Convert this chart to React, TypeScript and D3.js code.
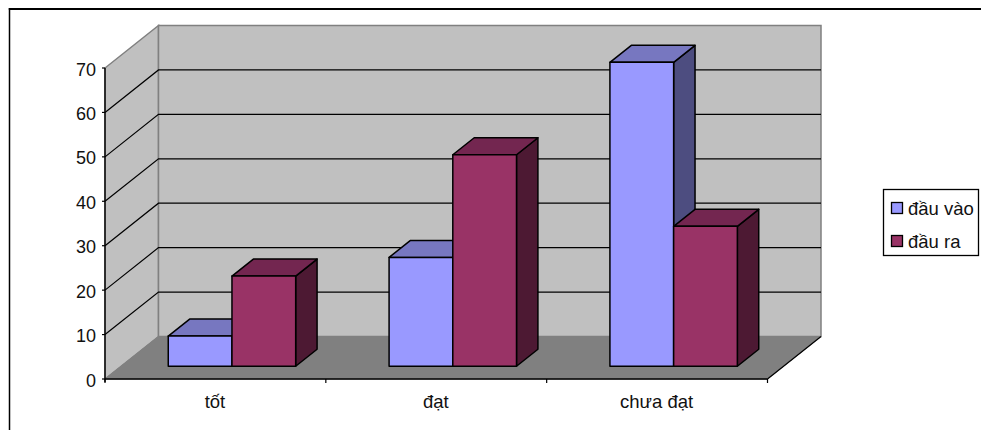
import React from "react";
import * as d3 from "d3";

const categories = ["tốt", "đạt", "chưa đạt"];
const seriesNames = ["đầu vào", "đầu ra"];
const dauVao = [6.8, 24.5, 68.4];
const dauRa = [20.3, 47.6, 31.5];
const yTicks = [0, 10, 20, 30, 40, 50, 60, 70];

const frontColors = ["#9999ff", "#993366"];
const topColors = ["#7777c0", "#732650"];
const sideColors = ["#4d4d80", "#4d1933"];

const WIDTH = 981;
const HEIGHT = 430;
const FONT = "'Liberation Sans', Arial, sans-serif";

// Oblique projection: the back of the box is offset from the front plane.
const depthX = 53.5;
const depthY = -42.5;
const barDepthStart = 0.3;
const barDepthEnd = 0.7;

const x = d3.scaleBand<string>().domain(categories).range([105, 767.5]);
const y = d3.scaleLinear().domain([0, 70]).range([379, 68]);

const project = (px: number, py: number, t: number): [number, number] => [
  px + depthX * t,
  py + depthY * t,
];

const poly = (pts: [number, number][]) => pts.map((p) => p.join(",")).join(" ");

function Bar({ cat, value, series }: { cat: string; value: number; series: number }) {
  const step = x.bandwidth();
  const barWidth = step * 0.2885;
  const x0 = (x(cat) as number) + step / 2 - barWidth + series * barWidth + 0.5;
  const x1 = x0 + barWidth;
  const top = y(value);
  const base = y(0);
  const a = barDepthStart;
  const b = barDepthEnd;
  const stroke = { stroke: "#000", strokeWidth: 1.5, strokeLinejoin: "round" as const };
  return (
    <g>
      <polygon
        points={poly([project(x1, base, a), project(x1, base, b), project(x1, top, b), project(x1, top, a)])}
        fill={sideColors[series]}
        {...stroke}
      />
      <polygon
        points={poly([project(x0, top, a), project(x1, top, a), project(x1, top, b), project(x0, top, b)])}
        fill={topColors[series]}
        {...stroke}
      />
      <polygon
        points={poly([project(x0, base, a), project(x1, base, a), project(x1, top, a), project(x0, top, a)])}
        fill={frontColors[series]}
        {...stroke}
      />
    </g>
  );
}

export default function App() {
  const [xl, xr] = x.range();
  const y0 = y(0);
  const yMax = y(70);
  const catTicks = d3.range(0, categories.length + 1).map((i) => xl + i * x.step());
  return (
    <svg
      width={WIDTH}
      height={HEIGHT}
      viewBox={`0 0 ${WIDTH} ${HEIGHT}`}
      style={{ position: "fixed", left: 0, top: 0, background: "#fff" }}
      fontFamily={FONT}
    >
      {/* outer frame: only the top and left edges fall inside the canvas */}
      <line x1={8.8} y1={9} x2={WIDTH} y2={9} stroke="#000" strokeWidth={2} />
      <line x1={9.5} y1={8} x2={9.5} y2={HEIGHT} stroke="#000" strokeWidth={1.5} />

      {/* side wall, back wall and floor */}
      <polygon
        points={poly([[xl, y0], [xl, yMax], project(xl, yMax, 1), project(xl, y0, 1)])}
        fill="#c0c0c0"
        stroke="#808080"
        strokeWidth={1.5}
      />
      <polygon
        points={poly([project(xl, yMax, 1), project(xr, yMax, 1), project(xr, y0, 1), project(xl, y0, 1)])}
        fill="#c0c0c0"
        stroke="#808080"
        strokeWidth={1.5}
      />
      <polygon
        points={poly([[xl, y0], [xr, y0], project(xr, y0, 1), project(xl, y0, 1)])}
        fill="#808080"
        stroke="#808080"
      />

      {/* gridlines run along the side wall and across the back wall */}
      {yTicks.slice(1, -1).map((t) => (
        <polyline
          key={t}
          points={poly([[xl, y(t)], project(xl, y(t), 1), project(xr, y(t), 1)])}
          fill="none"
          stroke="#000"
          strokeWidth={1.2}
        />
      ))}

      {categories.map((c, i) => (
        <g key={c}>
          <Bar cat={c} value={dauVao[i]} series={0} />
          <Bar cat={c} value={dauRa[i]} series={1} />
        </g>
      ))}

      {/* front axes */}
      <line x1={xl} y1={yMax} x2={xl} y2={y0 + 3} stroke="#000" strokeWidth={1.4} />
      <line x1={xl} y1={y0} x2={xr} y2={y0} stroke="#000" strokeWidth={1.4} />
      <line x1={xr} y1={y0} x2={xr + depthX} y2={y0 + depthY} stroke="#000" strokeWidth={1.2} />
      {yTicks.map((t) => (
        <g key={t}>
          <line x1={xl - 3} x2={xl} y1={y(t)} y2={y(t)} stroke="#000" strokeWidth={1.2} />
          <text x={xl - 9} y={y(t) + 7.5} textAnchor="end" fontSize={18} fill="#111">
            {t}
          </text>
        </g>
      ))}
      {catTicks.map((px) => (
        <line key={px} x1={px} x2={px} y1={y0} y2={y0 + 4} stroke="#000" strokeWidth={1.2} />
      ))}
      {categories.map((c) => (
        <text
          key={c}
          x={(x(c) as number) + x.bandwidth() / 2 - 0.5}
          y={408}
          textAnchor="middle"
          fontSize={18.5}
          fill="#111"
        >
          {c}
        </text>
      ))}

      {/* legend */}
      <rect x={883.5} y={189.5} width={95} height={66} fill="#fff" stroke="#000" strokeWidth={1.3} />
      {seriesNames.map((name, i) => (
        <g key={name} transform={`translate(0, ${i * 33})`}>
          <rect x={891.5} y={202.5} width={11} height={11} fill={frontColors[i]} stroke="#000" strokeWidth={1.3} />
          <text x={908} y={215} fontSize={18.5} fill="#111">
            {name}
          </text>
        </g>
      ))}
    </svg>
  );
}
